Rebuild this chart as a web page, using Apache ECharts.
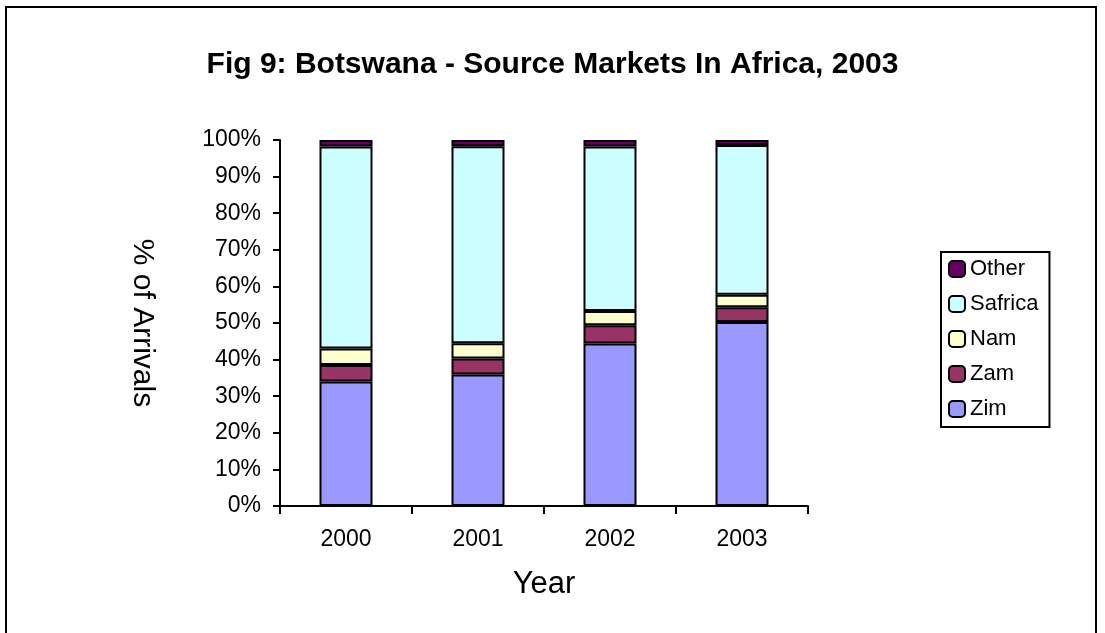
<!DOCTYPE html>
<html>
<head>
<meta charset="utf-8">
<style>
  html, body { margin: 0; padding: 0; background: #fff; }
  #chart { width: 1105px; height: 633px; }
</style>
<script src="https://cdn.jsdelivr.net/npm/echarts@6/dist/echarts.min.js"></script>
</head>
<body>
<div id="chart"></div>
<script>
// Share of African arrivals to Botswana by source market (percent of total)
const years = ['2000', '2001', '2002', '2003'];
const zim = [34.0, 35.9, 44.4, 50.3];
const zam = [4.5, 4.4, 5.0, 4.0];
const nam = [4.5, 4.2, 3.9, 3.4];
const safrica = [55.2, 53.8, 44.9, 40.9];
const other = [1.8, 1.7, 1.8, 1.4];
const legendOrder = ['Other', 'Safrica', 'Nam', 'Zam', 'Zim'];

const FONT = '"Liberation Sans", Arial, sans-serif';

function stackSeries(name, data, color) {
  return {
    name: name,
    type: 'bar',
    stack: 'total',
    data: data,
    barWidth: 53,
    itemStyle: { color: color, borderColor: '#000', borderWidth: 2 },
    emphasis: { disabled: true }
  };
}

const chart = echarts.init(document.getElementById('chart'), null, { renderer: 'canvas' });
chart.setOption({
  animation: false,
  backgroundColor: '#fff',
  textStyle: { fontFamily: FONT, color: '#000' },
  graphic: [{
    type: 'rect',
    shape: { x: 6, y: 7, width: 1090, height: 650 },
    style: { fill: null, stroke: '#000', lineWidth: 2 },
    silent: true
  }],
  title: {
    text: 'Fig 9: Botswana - Source Markets In Africa, 2003',
    left: 'center',
    top: 45,
    textStyle: { fontFamily: FONT, fontWeight: 'bold', fontSize: 30, color: '#000' }
  },
  legend: {
    data: legendOrder,
    orient: 'vertical',
    left: 941,
    top: 252,
    padding: [6, 11, 7, 7],
    itemWidth: 16,
    itemHeight: 16,
    itemGap: 13,
    borderColor: '#000',
    borderWidth: 2,
    textStyle: { fontFamily: FONT, fontSize: 22, color: '#000', lineHeight: 22 },
    selectedMode: false
  },
  grid: { left: 280, right: 297, top: 140, bottom: 127, containLabel: false },
  xAxis: {
    type: 'category',
    data: years,
    name: 'Year',
    nameLocation: 'middle',
    nameGap: 63,
    nameTextStyle: { fontFamily: FONT, fontSize: 31, color: '#000' },
    axisLine: { lineStyle: { color: '#000', width: 2 } },
    axisTick: { show: true, length: 8, lineStyle: { color: '#000', width: 2 } },
    axisLabel: { fontFamily: FONT, fontSize: 23, color: '#000', margin: 22 }
  },
  yAxis: {
    type: 'value',
    min: 0,
    max: 100,
    interval: 10,
    name: '% of Arrivals',
    nameLocation: 'middle',
    nameRotate: -90,
    nameGap: 123,
    nameTextStyle: { fontFamily: FONT, fontSize: 30, color: '#000' },
    axisLine: { show: true, lineStyle: { color: '#000', width: 2 } },
    axisTick: { show: true, length: 7, lineStyle: { color: '#000', width: 2 } },
    axisLabel: { fontFamily: FONT, fontSize: 23, color: '#000', margin: 19, formatter: '{value}%' },
    splitLine: { show: false }
  },
  series: [
    stackSeries('Zim', zim, '#9999FF'),
    stackSeries('Zam', zam, '#993366'),
    stackSeries('Nam', nam, '#FFFFCC'),
    stackSeries('Safrica', safrica, '#CCFFFF'),
    stackSeries('Other', other, '#660066')
  ]
});
</script>
</body>
</html>
